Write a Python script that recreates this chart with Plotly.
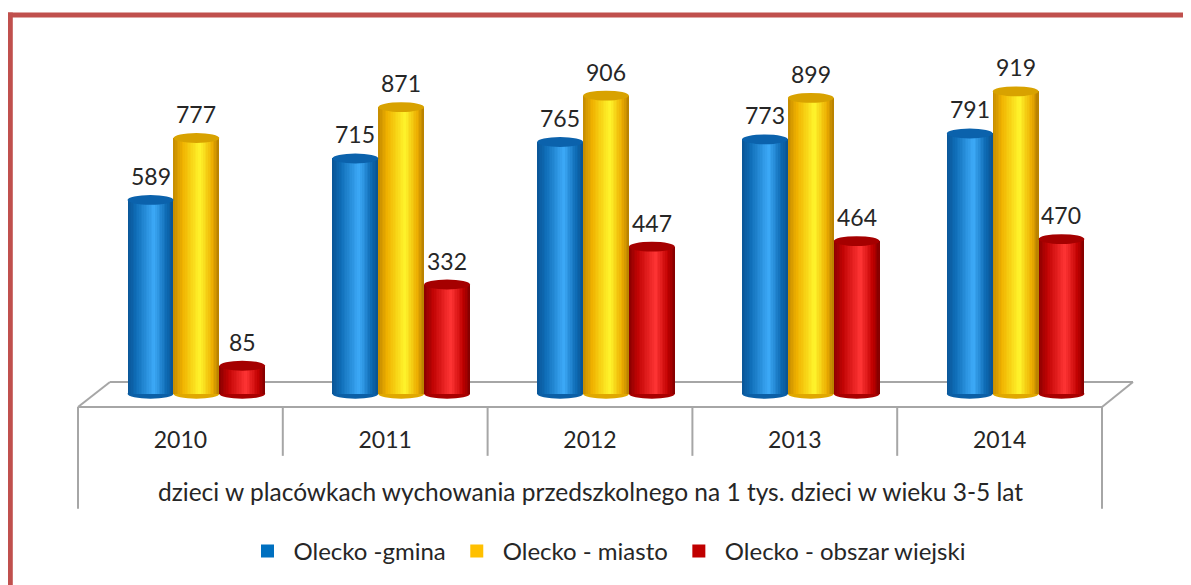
import plotly.graph_objects as go

# ---- data ----
years = ["2010", "2011", "2012", "2013", "2014"]
series_names = ["Olecko -gmina", "Olecko - miasto", "Olecko - obszar wiejski"]
gmina = [589, 715, 765, 773, 791]
miasto = [777, 871, 906, 899, 919]
wiejski = [85, 332, 447, 464, 470]
axis_title = "dzieci w placówkach wychowania przedszkolnego na 1 tys. dzieci w wieku 3-5 lat"

series_values = [gmina, miasto, wiejski]
legend_colors = ["#0070C0", "#FFC000", "#C00000"]
grad_stops = [
    [(0, "#0A5596"), (0.18, "#0E6CB6"), (0.58, "#3DAAF8"), (0.85, "#0D69B2"), (1, "#0A5290")],
    [(0, "#C48A00"), (0.2, "#F0B200"), (0.58, "#FFF52C"), (0.85, "#ECAC00"), (1, "#B47E00")],
    [(0, "#8A0000"), (0.2, "#C20404"), (0.58, "#FF3535"), (0.85, "#C00000"), (1, "#800000")],
]
top_colors = ["#0B62AC", "#D8A200", "#A50000"]
bottom_colors = ["#0B5FA6", "#E0A800", "#A80000"]

# ---- geometry (page has an 8px body margin) ----
PAGE_OFF = 8
W_FIG, H_FIG = 1191 - PAGE_OFF, 585 - PAGE_OFF
ML, MR, MT, MB = 94 - PAGE_OFF, 73, 65 - PAGE_OFF, 182
Y_RANGE = [-25, 999]
BW = 0.224          # cylinder width in category units
K = 28              # gradient slices
EH = 15             # half height of end ellipses (data units)
FONT = "Lato"
TXT = "#262626"


def hex2rgb(h):
    h = h.lstrip("#")
    return tuple(int(h[i:i + 2], 16) for i in (0, 2, 4))


def grad(stops, t):
    for (t0, c0), (t1, c1) in zip(stops[:-1], stops[1:]):
        if t0 <= t <= t1:
            f = (t - t0) / (t1 - t0) if t1 > t0 else 0
            a, b = hex2rgb(c0), hex2rgb(c1)
            return "rgb(%d,%d,%d)" % tuple(round(a[j] + (b[j] - a[j]) * f) for j in range(3))
    return stops[-1][1]


pw = W_FIG - ML - MR
ph = H_FIG - MT - MB


def px(x):  # page pixel -> paper
    return (x - PAGE_OFF - ML) / pw


def py(y):
    return (H_FIG - MB - (y - PAGE_OFF)) / ph


fig = go.Figure()
shapes = []
annotations = []

for s, vals in enumerate(series_values):
    xs = [i + (s - 1) * BW for i in range(len(years))]
    for k in range(K):
        t = (k + 0.5) / K
        fig.add_trace(go.Bar(
            x=xs, y=vals, base=0,
            offset=-BW / 2 + k * BW / K, width=BW - k * BW / K,
            marker=dict(color=grad(grad_stops[s], t), line=dict(width=0)),
            showlegend=False, hoverinfo="skip",
        ))
    for x, v in zip(xs, vals):
        shapes.append(dict(type="circle", xref="x", yref="y", layer="below",
                           x0=x - BW / 2, x1=x + BW / 2, y0=-EH, y1=EH,
                           fillcolor=bottom_colors[s], line=dict(width=0)))
        shapes.append(dict(type="circle", xref="x", yref="y", layer="above",
                           x0=x - BW / 2, x1=x + BW / 2, y0=v - EH, y1=v + EH,
                           fillcolor=top_colors[s], line=dict(width=0)))
        annotations.append(dict(x=x, y=v, xref="x", yref="y", text=str(v),
                                showarrow=False, yanchor="middle", yshift=24,
                                font=dict(family=FONT, size=23, color=TXT)))

# legend entries
for s, name in enumerate(series_names):
    fig.add_trace(go.Scatter(x=[None], y=[None], mode="markers", name=name,
                             marker=dict(symbol="square", size=13, color=legend_colors[s])))

# floor / table lines (page pixel coords)
gray = "#A6A6A6"
lines = [
    ((110, 383), (1133, 383)),
    ((78, 408), (1102, 408)),
    ((78, 408), (110, 383)),
    ((1102, 408), (1133, 383)),
    ((78, 408), (78, 510)),
    ((1102, 408), (1102, 510)),
]
for j in range(1, len(years)):
    xx = 78 + j * (1102 - 78) / len(years)
    lines.append(((xx, 408), (xx, 457)))
for (x0, y0), (x1, y1) in lines:
    shapes.append(dict(type="line", xref="paper", yref="paper", layer="below",
                       x0=px(x0), y0=py(y0), x1=px(x1), y1=py(y1),
                       line=dict(color=gray, width=2)))

# red frame
red = "#C0504D"
shapes.append(dict(type="line", xref="paper", yref="paper", layer="above",
                   x0=px(7.5), y0=py(14.8), x1=px(1200), y1=py(14.8),
                   line=dict(color=red, width=5)))
shapes.append(dict(type="line", xref="paper", yref="paper", layer="above",
                   x0=px(10.3), y0=py(12.3), x1=px(10.3), y1=py(600),
                   line=dict(color=red, width=5)))

# axis title
annotations.append(dict(x=px(590), y=py(493), xref="paper", yref="paper",
                        text=axis_title, showarrow=False, xanchor="center", yanchor="middle",
                        font=dict(family=FONT, size=24.5, color=TXT)))

fig.update_layout(
    width=W_FIG, height=H_FIG,
    margin=dict(l=ML, r=MR, t=MT, b=MB, pad=0),
    paper_bgcolor="white", plot_bgcolor="rgba(0,0,0,0)",
    barmode="overlay", bargap=0,
    shapes=shapes, annotations=annotations,
    font=dict(family=FONT, color=TXT),
    showlegend=True,
    legend=dict(orientation="h", x=px(606), y=py(551.5), xanchor="center", yanchor="middle",
                font=dict(family=FONT, size=24, color=TXT), itemwidth=42,
                bgcolor="rgba(0,0,0,0)"),
    xaxis=dict(range=[-0.5, 4.5], tickmode="array", tickvals=list(range(len(years))),
               ticktext=years, showgrid=False, zeroline=False, showline=False,
               ticks="", ticklabelshift=-16, ticklabelstandoff=22,
               tickfont=dict(family=FONT, size=23, color=TXT), fixedrange=True),
    yaxis=dict(range=Y_RANGE, visible=False, fixedrange=True),
)

fig.write_html("out.html")
